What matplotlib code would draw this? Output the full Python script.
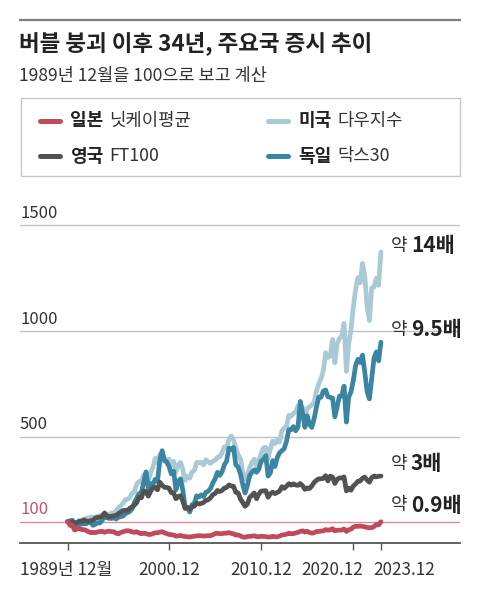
import matplotlib
matplotlib.use("Agg")
import matplotlib.pyplot as plt
from matplotlib.lines import Line2D
from matplotlib.patches import Rectangle
import numpy as np
import pandas as pd

plt.rcParams['font.family'] = ['Noto Sans CJK KR', 'DejaVu Sans']

# ---------------- data (index, Dec 1989 = 100), quarterly ----------------
tick_labels = ["1989년 12월", "2000.12", "2010.12", "2020.12", "2023.12"]
tick_years = [1989, 2000, 2010, 2020, 2023]

us_dow = [100,
    98, 105, 92, 96,
    106, 106, 110, 115,
    118, 121, 119, 120,
    125, 128, 130, 136,
    133, 132, 140, 139,
    151, 165, 174, 186,
    203, 205, 214, 234,
    239, 279, 289, 287,
    320, 325, 290, 334,
    356, 399, 378, 418,
    397, 385, 392, 395,
    365, 385, 335, 368,
    380, 345, 295, 315,
    305, 335, 342, 380,
    378, 380, 368, 392,
    383, 375, 385, 390,
    404, 406, 425, 453,
    450, 487, 505, 485,
    448, 415, 398, 335,
    300, 320, 355, 380,
    395, 360, 392, 421,
    448, 451, 400, 444,
    480, 468, 488, 476,
    530, 542, 550, 602,
    598, 611, 619, 647,
    646, 640, 595, 633,
    642, 651, 665, 718,
    751, 776, 814, 898,
    876, 882, 961, 850,
    942, 966, 978, 1037,
    810, 938, 1009, 1112,
    1198, 1253, 1229, 1320,
    1260, 1118, 1050, 1204,
    1209, 1250, 1217, 1375]

de_dax = [100,
    103, 106, 80, 80,
    89, 88, 90, 89,
    97, 96, 82, 87,
    95, 93, 106, 127,
    118, 115, 115, 118,
    112, 120, 123, 126,
    137, 142, 148, 161,
    190, 212, 232, 237,
    285, 335, 255, 279,
    275, 300, 290, 389,
    435, 390, 382, 360,
    325, 338, 250, 290,
    302, 248, 165, 165,
    145, 180, 185, 222,
    216, 226, 218, 238,
    243, 256, 282, 302,
    333, 318, 335, 368,
    386, 447, 440, 451,
    368, 358, 326, 275,
    235, 270, 317, 333,
    344, 333, 348, 386,
    393, 412, 315, 330,
    388, 360, 403, 425,
    435, 445, 480, 534,
    534, 549, 529, 548,
    668, 611, 545, 600,
    560, 545, 587, 641,
    688, 688, 717, 722,
    690, 687, 684, 595,
    644, 693, 694, 740,
    570, 688, 713, 766,
    838, 867, 852, 887,
    805, 714, 680, 778,
    873, 902, 860, 948]

uk_ftse = [100,
    96, 100, 92, 95,
    101, 100, 108, 103,
    101, 104, 105, 117,
    119, 120, 125, 141,
    127, 122, 125, 127,
    129, 137, 145, 152,
    153, 153, 163, 170,
    178, 190, 216, 212,
    245, 241, 220, 243,
    260, 261, 250, 286,
    272, 262, 261, 258,
    236, 236, 208, 218,
    222, 196, 162, 168,
    158, 170, 173, 187,
    183, 186, 190, 200,
    203, 212, 227, 233,
    247, 242, 247, 258,
    261, 273, 268, 267,
    238, 235, 207, 190,
    172, 182, 214, 224,
    235, 208, 230, 244,
    245, 246, 215, 231,
    239, 232, 238, 244,
    265, 257, 267, 279,
    272, 278, 273, 271,
    280, 269, 252, 259,
    256, 268, 285, 295,
    302, 302, 304, 317,
    292, 315, 310, 280,
    300, 306, 306, 311,
    245, 258, 248, 268,
    278, 290, 292, 305,
    310, 296, 286, 308,
    315, 311, 314, 315]

jp_nikkei = [100,
    82, 82, 60, 64,
    68, 62, 62, 58,
    52, 47, 49, 47,
    51, 53, 54, 49,
    53, 55, 52, 52,
    45, 42, 48, 52,
    55, 57, 55, 51,
    49, 52, 46, 42,
    45, 43, 39, 39,
    43, 47, 47, 50,
    52, 47, 43, 39,
    38, 36, 31, 32,
    34, 31, 29, 28,
    27, 29, 31, 32,
    33, 33, 31, 33,
    33, 33, 37, 43,
    45, 42, 43, 45,
    45, 48, 44, 42,
    36, 37, 32, 27,
    26, 29, 30, 31,
    33, 29, 28, 31,
    29, 29, 27, 27,
    30, 28, 28, 31,
    36, 38, 40, 45,
    42, 43, 46, 49,
    54, 56, 50, 54,
    48, 45, 47, 53,
    53, 55, 56, 62,
    59, 61, 66, 56,
    59, 59, 60, 65,
    53, 61, 64, 74,
    78, 77, 79, 77,
    75, 72, 71, 71,
    76, 86, 84, 99]

series_names_bold = ["일본", "미국", "영국", "독일"]
series_names_reg = ["닛케이평균", "다우지수", "FT100", "닥스30"]
end_nums = ["14배", "9.5배", "3배", "0.9배"]
grid_values = [100, 500, 1000, 1500]

# ---------------- styling ----------------
C_JP = "#c04a5b"
C_US = "#a9c9d5"
C_UK = "#525252"
C_DE = "#3a85a1"
TXT = "#333333"

dates = pd.date_range("1989-12-01", periods=len(us_dow), freq="3MS")
x = dates.year + (dates.month - 1) / 12.0

W, H = 480, 595
fig = plt.figure(figsize=(W / 100, H / 100), dpi=100)

def fx(px):
    return px / W

def fy(py):
    return 1 - py / H

# top rule
fig.add_artist(Line2D([fx(20), fx(460)], [fy(20), fy(20)], color="#7f7f7f", lw=1.6))
fig.text(fx(19), fy(43), "버블 붕괴 이후 34년, 주요국 증시 추이", fontsize=16.2, fontweight="bold",
         color="#222222", va="center", ha="left")
fig.text(fx(19), fy(76), "1989년 12월을 100으로 보고 계산", fontsize=12.6, color=TXT,
         va="center", ha="left")

# legend box
fig.add_artist(Rectangle((fx(20.5), fy(176)), fx(460) - fx(20.5), fy(98) - fy(176),
                         transform=fig.transFigure, fill=False, edgecolor="#c8c8c8", lw=1.0))
leg_items = [(C_JP, 0, 0), (C_US, 1, 0), (C_UK, 0, 1), (C_DE, 1, 1)]
col_x = [40, 268]
row_y = [121, 156]
for i, (c, col, row) in enumerate(leg_items):
    x0 = col_x[col]
    yy = row_y[row]
    fig.add_artist(Line2D([fx(x0), fx(x0 + 20)], [fy(yy), fy(yy)], color=c, lw=3.6,
                          solid_capstyle="round"))
    fig.text(fx(x0 + 30), fy(yy), series_names_bold[i], fontsize=13, fontweight="bold",
             color="#222222", va="center", ha="left")
    fig.text(fx(x0 + 69), fy(yy), series_names_reg[i], fontsize=12.8, color=TXT,
             va="center", ha="left")

# axes
ax_bottom = 542.7
ax_top = 204.3
ax = fig.add_axes([fx(20), fy(ax_bottom), fx(460) - fx(20), fy(ax_top) - fy(ax_bottom)])
ax.set_xlim(1984.74, 2032.5)
ax.set_ylim(0, 1600)
for s in ["top", "right", "left"]:
    ax.spines[s].set_visible(False)
ax.spines["bottom"].set_color("#555555")
ax.spines["bottom"].set_linewidth(1.3)
ax.set_yticks([])

for v in grid_values:
    col = "#d98c98" if v == 100 else "#c2c2c2"
    ax.axhline(v, color=col, lw=1.0, zorder=1)
    ax.annotate(str(v), xy=(0, v), xycoords=("axes fraction", "data"), xytext=(0, 2.5),
                textcoords="offset points", ha="left", va="bottom", fontsize=12,
                color=("#c8566a" if v == 100 else TXT))

tick_x = [y + 11 / 12 for y in tick_years]
ax.set_xticks(tick_x)
ax.set_xticklabels([])
ax.tick_params(axis="x", direction="out", length=5, width=1.0, color="#555555")
label_dx = [-1, 0, 0, -15, 17]
for tx, lab, dx in zip(tick_x, tick_labels, label_dx):
    ax.annotate(lab, xy=(tx, 0), xycoords="data", xytext=(dx, -20), textcoords="offset points",
                ha="center", va="center", fontsize=12.3, color=TXT)

lw = 3.4
kw = dict(solid_joinstyle="round", solid_capstyle="round")
ax.plot(x, us_dow, color=C_US, lw=lw, zorder=3, **kw)
ax.plot(x, de_dax, color=C_DE, lw=lw, zorder=4, **kw)
ax.plot(x, uk_ftse, color=C_UK, lw=lw, zorder=5, **kw)
ax.plot(x, jp_nikkei, color=C_JP, lw=lw, zorder=6, **kw)

# end labels
end_y = [246, 330, 464, 505]
for yy, num in zip(end_y, end_nums):
    fig.text(fx(391), fy(yy), "약", fontsize=13, color=TXT, va="center", ha="left")
    fig.text(fx(411), fy(yy), num, fontsize=15, fontweight="bold", color="#222222",
             va="center", ha="left")

fig.savefig("out.png", dpi=100)
